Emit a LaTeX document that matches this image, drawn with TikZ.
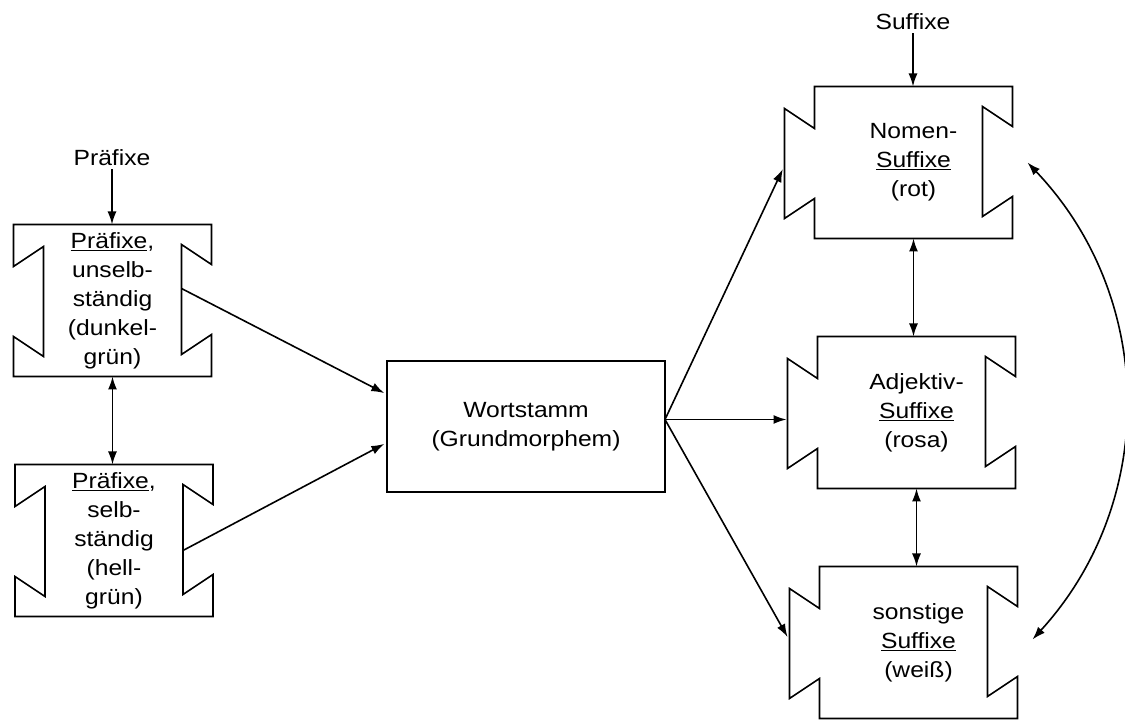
\documentclass[tikz,border=0pt]{standalone}
\usepackage{fontspec}
\setmainfont{Liberation Sans}[FakeStretch=1.12]
\usetikzlibrary{arrows.meta,calc}

\begin{document}
\begin{tikzpicture}[x=1pt, y=1pt, line width=1.6pt, >={Latex[length=13pt,width=9pt]}]
		% Formate
		\tikzstyle{every node}=[font=\fontsize{22}{29}\selectfont, align=center, inner sep=0pt, outer sep=0pt]
		\tikzstyle{teil} = [minimum width=198pt, minimum height=152pt]
		\tikzstyle{arrow} = [->, shorten <=3pt]
		\useasboundingbox (0,0) rectangle (1125,720);
		% Knoten
		\node [teil] (PU) at (112.5,419.5) {\underline{Präfixe},\\unselb-\\ständig\\(dunkel-\\grün)};
		\node [teil] (PS) at (114,179.5) {\underline{Präfixe},\\selb-\\ständig\\(hell-\\grün)};
		\node [draw, minimum width=278pt, minimum height=131pt] (WS) at (526,293.5) {Wortstamm\\(Grundmorphem)};
		\node [teil] (SN) at (913.5,557.5) {Nomen-\\\underline{Suffixe}\\(rot)};
		\node [teil] (SA) at (916.5,307.5) {Adjektiv-\\\underline{Suffixe}\\(rosa)};
		\node [teil] (SS) at (918.5,77.5) {sonstige\\\underline{Suffixe}\\(weiß)};
		\node (PX) at (112,562) {Präfixe};
		\node (SX) at (913,698) {Suffixe};
		\coordinate (fan) at ($(WS.east)+(0,7)$);
		% Puzzleteile
		\foreach \n in {PU,PS}
			\draw (\n.north west) -- ++(0,-42) -- ++(30,20) -- ++(0,-110) -- ++(-30,20) -- (\n.south west)
				-- (\n.south east) -- ++(0,42) -- ++(-30,-20) -- ++(0,110) -- ++(30,-20) -- (\n.north east) -- cycle;
		\foreach \n in {SN,SA,SS}
			\draw (\n.north west) -- ++(0,-42) -- ++(-30,20) -- ++(0,-110) -- ++(30,20) -- (\n.south west)
				-- (\n.south east) -- ++(0,42) -- ++(-30,-20) -- ++(0,110) -- ++(30,-20) -- (\n.north east) -- cycle;
		% Beziehungen
		\draw [arrow] (PX) -- (PX |- PU.north);
		\draw [arrow] (SX) -- (SX |- SN.north);
		\draw [<->] (PU.south) -- (PU.south |- PS.north);
		\draw [arrow, shorten <=0pt, shorten >=3pt] ($(PU.east)+(-30,12)$) -- ($(WS.west)+(0,32)$);
		\draw [arrow, shorten <=0pt, shorten >=3pt] ($(PS.east)+(-30,-10)$) -- ($(WS.west)+(0,-16)$);
		\draw [arrow, shorten <=0pt, shorten >=4pt] (fan) -- ($(SN.west)+(-30,-3)$);
		\draw [arrow, shorten <=0pt, shorten >=1pt] (fan) -- (fan -| {$(SA.west)+(-30,0)$});
		\draw [arrow, shorten <=0pt, shorten >=4pt] (fan) -- ($(SS.west)+(-30,2)$);
		\draw [<->] (SN.south) -- (SN.south |- SA.north);
		\draw [<->] (SA.south) -- (SA.south |- SS.north);
		\draw [<->] ($(SN.east)+(15,0)$) to [bend left=43] ($(SS.east)+(15,3)$);
	\end{tikzpicture}
\end{document}
